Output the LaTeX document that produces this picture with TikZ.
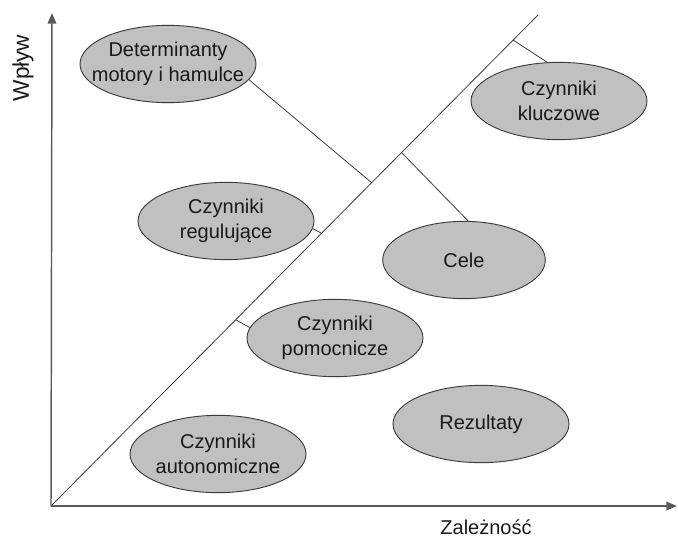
\documentclass[tikz,border=0pt]{standalone}
\usepackage{fontspec}
\setmainfont{Liberation Sans}
\usetikzlibrary{shapes.geometric,arrows.meta}
\definecolor{ellfill}{RGB}{192,192,192}
\definecolor{linegray}{RGB}{60,60,60}
\begin{document}
\begin{tikzpicture}[x=0.75pt,y=-0.75pt,
  lbl/.style={font=\fontsize{15}{18.5}\selectfont, text=black!90, align=center},
  factor/.style={ellipse, draw=linegray, fill=ellfill, line width=0.7pt, inner sep=0pt,
    minimum width=132pt, minimum height=58pt, label={[lbl]center:#1}},
  axis/.style={-{Triangle[length=8pt,width=6.5pt]}, line width=1.1pt, draw=black!65},
  link/.style={draw=linegray, line width=0.6pt}
]
\useasboundingbox (0,0) rectangle (678,540);
\coordinate (O) at (51,506);
\coordinate (ytop) at (52,13);
\coordinate (xend) at (677,506);
\coordinate (top) at (538,15);
\coordinate (p1) at (372,183);
\coordinate (p2) at (513,40);
\coordinate (p3) at (321,233);
\coordinate (p4) at (402,153);
\coordinate (p5) at (236,320);

\node[factor={Determinanty\\motory i hamulce}] (det) at (168,64) {};
\node[factor={Czynniki\\kluczowe}] (klucz) at (559,101) {};
\node[factor={Czynniki\\regulujące}] (reg) at (226,221) {};
\node[factor=Cele, minimum width=122pt] (cele) at (464,260) {};
\node[factor={Czynniki\\pomocnicze}] (pom) at (335,338) {};
\node[factor=Rezultaty] (rez) at (481,424) {};
\node[factor={Czynniki\\autonomiczne}] (auton) at (218,454) {};

\draw[link] (O) -- (top);
\draw[link] (det.-11) -- (p1);
\draw[link] (p2) -- (klucz.107);
\draw[link] (reg.-5) -- (p3);
\draw[link] (p4) -- (cele.84);
\draw[link] (p5) -- (pom.173);

\draw[axis] (O) -- (ytop);
\draw[axis] (O) -- (xend);

\node[lbl, font=\fontsize{17}{20}\selectfont, rotate=90] (wplyw) at (23,68) {Wpływ};
\node[lbl] (zalez) at (486,527) {Zależność};
\end{tikzpicture}
\end{document}
